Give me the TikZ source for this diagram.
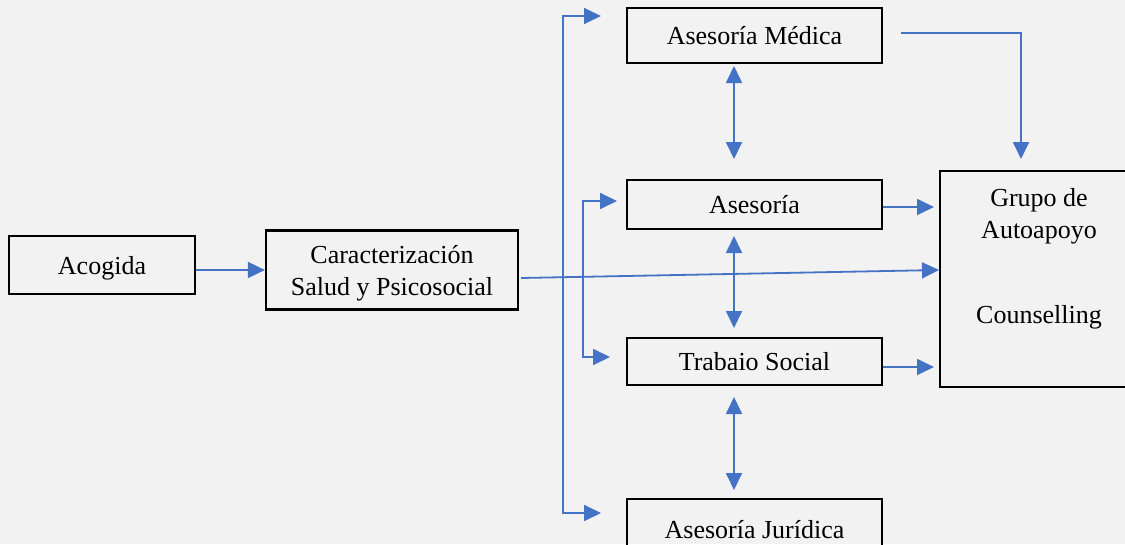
\documentclass[tikz,border=0pt]{standalone}
\usepackage{fontspec}
\setmainfont{Liberation Serif}
\usetikzlibrary{arrows.meta}
\definecolor{flowblue}{HTML}{4472C4}
\definecolor{paper}{HTML}{F2F2F2}
\tikzset{box/.style={draw=black, line width=2.2pt, inner sep=0pt, align=center, text depth=0pt},
flow/.style={draw=flowblue, line width=1.8pt, -{Triangle[length=17pt,width=16pt]}},
both/.style={flow, {Triangle[length=17pt,width=16pt]}-{Triangle[length=17pt,width=16pt]}},
txt/.style={inner sep=0pt, align=center}}

\begin{document}
\begin{tikzpicture}[x=1pt, y=-1pt, font=\fontsize{26}{32}\selectfont]
        \clip (0,0) rectangle (1125,544);
        \fill[paper] (0,0) rectangle (1125,544);
        % boxes
        \node[box, minimum width=186pt, minimum height=58pt] (acogida) at (102,265) {Acogida};
        \node[box, minimum width=252pt, minimum height=79pt] (caract) at (392,270) {Caracterización\\Salud y Psicosocial};
        \node[box, minimum width=255pt, minimum height=55pt] (medica) at (754.5,35.5) {Asesoría Médica};
        \node[box, minimum width=255pt, minimum height=49pt] (asesoria) at (754.5,204.5) {Asesoría};
        \node[box, minimum width=255pt, minimum height=47pt] (trabajo) at (754.5,361.5) {Trabaio Social};
        \node[box, minimum width=255pt, minimum height=60pt] (juridica) at (754.5,529) {Asesoría Jurídica};
        \node[box, minimum width=198pt, minimum height=216pt] (grupo) at (1039,279) {};
        \node[txt] (grupotxt) at (1039,216) {Grupo de\\Autoapoyo};
        \node[txt] (counsel) at (1039,317) {Counselling};
        % free ends
        \coordinate (out) at (521,278);
        \coordinate (hubA) at (563,278);
        \coordinate (hubB) at (583,277);
        \coordinate (medIn) at (601,16);
        \coordinate (jurIn) at (601,513);
        \coordinate (aseIn) at (617,201);
        \coordinate (traIn) at (610,357);
        \coordinate (grpIn) at (939,270);
        \coordinate (medOut) at (901,33);
        \coordinate (grpTop) at (1021,159);
        \coordinate (asePort) at (934,207);
        \coordinate (traPort) at (934,367);
        % connectors
        \draw[flow] (acogida.east |- caract) -- (caract.west);
        \draw[flow] (out) -- (grpIn);
        \draw[flow] (hubA) |- (medIn);
        \draw[flow] (hubA) |- (jurIn);
        \draw[flow] (hubB) |- (aseIn);
        \draw[flow] (hubB) |- (traIn);
        \draw[flow] (medOut) -| (grpTop);
        \draw[flow] (asesoria.east |- asePort) -- (asePort);
        \draw[flow] (trabajo.east |- traPort) -- (traPort);
        \draw[both] (734,66) -- (734,159);
        \draw[both] (734,236) -- (734,328);
        \draw[both] (734,397) -- (734,490);
\end{tikzpicture}
\end{document}
